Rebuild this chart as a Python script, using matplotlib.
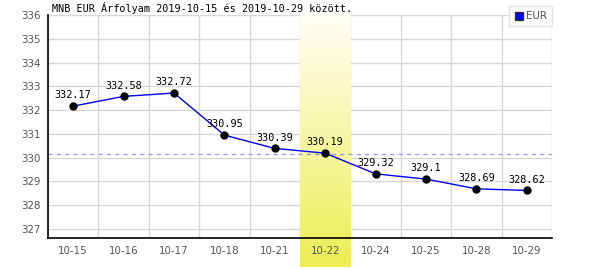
import matplotlib.pyplot as plt
import numpy as np

# data
dates = ['10-15', '10-16', '10-17', '10-18', '10-21', '10-22', '10-24', '10-25', '10-28', '10-29']
eur = [332.17, 332.58, 332.72, 330.95, 330.39, 330.19, 329.32, 329.1, 328.69, 328.62]
ref_line = 330.17
highlight = '10-22'
title = 'MNB EUR Árfolyam 2019-10-15 és 2019-10-29 között.'

fig = plt.figure(figsize=(6, 2.7), dpi=100)
ax = fig.add_axes([0.08, 0.1185, 0.84, 0.8255])

x = np.arange(len(dates))
ymin, ymax = 326.62, 336.0

# grid
for v in range(327, 337):
    ax.axhline(v, color='#d8d8d8', lw=1, zorder=0)
for b in np.arange(-0.5, len(dates), 1.0):
    ax.axvline(b, color='#d8d8d8', lw=1, zorder=0)

# highlighted column, gradient white -> yellow, runs below the axis
hi = dates.index(highlight)
grad = np.linspace(0, 1, 256).reshape(-1, 1)
top_c = np.array([1.0, 1.0, 0.96])
bot_c = np.array([0.93, 0.93, 0.33])
img = top_c + grad[..., None] * (bot_c - top_c)
ax.imshow(img, extent=[hi - 0.5, hi + 0.5, 325.4, 336.04], aspect='auto',
          zorder=0.5, clip_on=False, origin='upper')

ax.axhline(ref_line, color='#9999ee', lw=1, ls=(0, (3, 3)), zorder=1)

ax.plot(x, eur, color='#0000ff', lw=1, zorder=2)
ax.plot(x, eur, 'o', color='black', ms=5, zorder=3)
for xi, yi in zip(x, eur):
    ax.text(xi, yi + 0.24, f'{yi:g}', ha='center', va='bottom',
            family='DejaVu Sans Mono', fontsize=7.3, color='black', zorder=4)

ax.set_xlim(-0.5, len(dates) - 0.5)
ax.set_ylim(ymin, ymax)
ax.set_xticks(x)
ax.set_xticklabels(dates)
ax.set_yticks(range(327, 337))
ax.tick_params(length=0, labelsize=7.4, colors='#555555', pad=6)
ax.tick_params(axis='y', pad=5)
for s in ['top', 'right']:
    ax.spines[s].set_visible(False)
for s in ['left', 'bottom']:
    ax.spines[s].set_color('black')
    ax.spines[s].set_linewidth(1.2)
ax.set_facecolor('white')

fig.text(52 / 600, 1 - 14 / 270, title, family='DejaVu Sans Mono', fontsize=7.3,
         ha='left', va='bottom', color='black')

# legend
leg = ax.legend(handles=[plt.Rectangle((0, 0), 1, 1, fc='#0000ff', ec='#333333')],
                labels=['EUR'], loc='upper right', bbox_to_anchor=(1.0, 1.04),
                frameon=True, fancybox=False, fontsize=7.4, handlelength=0.8,
                handleheight=0.8, handletextpad=0.3, borderpad=0.5, borderaxespad=0)
leg.get_frame().set_edgecolor('#dddddd')
leg.get_frame().set_linewidth(1)
for t in leg.get_texts():
    t.set_color('#555555')

fig.savefig('out.png', dpi=100)
